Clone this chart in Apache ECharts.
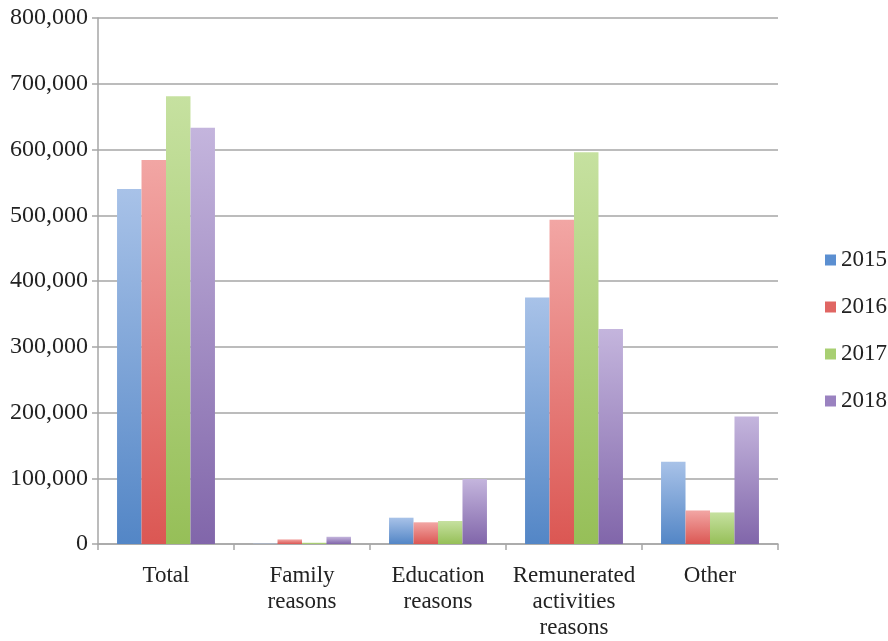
<!DOCTYPE html>
<html>
<head>
<meta charset="utf-8">
<script src="https://cdn.jsdelivr.net/npm/echarts@6/dist/echarts.min.js"></script>
<style>
  html, body { margin: 0; padding: 0; background: #fff; }
  #chart { width: 888px; height: 641px; }
</style>
</head>
<body>
<div id="chart"></div>
<script>
// 数据
const categories = ['Total', 'Family\nreasons', 'Education\nreasons', 'Remunerated\nactivities\nreasons', 'Other']
const years = ['2015', '2016', '2017', '2018']
const v2015 = [540000, 500, 40000, 375000, 125000]
const v2016 = [584000, 7000, 33000, 493000, 51000]
const v2017 = [681000, 2000, 35000, 596000, 48000]
const v2018 = [633000, 11000, 99000, 327000, 194000]
const seriesValues = [v2015, v2016, v2017, v2018]

// 颜色 (上浅下深)
const colors = [
    ['#a8c2e8', '#5386c6'],
    ['#f2a6a4', '#db5753'],
    ['#c6e1a0', '#96bf58'],
    ['#c4b5dd', '#8166aa']
]
const legendColors = ['#5b8fd1', '#e06663', '#a8cf72', '#9a82c0']

const FONT = '"Liberation Serif", "DejaVu Serif", serif'

const chart = echarts.init(document.getElementById('chart'))

const option = {
    animation: false,
    grid: { left: 98, right: 110, top: 18, bottom: 90, containLabel: false },
    legend: {
        orient: 'vertical',
        left: 820,
        top: 243,
        itemWidth: 11,
        itemHeight: 11,
        itemGap: 23,
        icon: 'rect',
        textStyle: { fontFamily: FONT, fontSize: 23, lineHeight: 24, color: '#222' },
        data: years.map((y, i) => ({ name: y, itemStyle: { color: legendColors[i] } }))
    },
    xAxis: {
        type: 'category',
        data: categories,
        axisLine: { lineStyle: { color: '#a6a6a6', width: 1.5 } },
        axisTick: { show: true, length: 6, lineStyle: { color: '#a6a6a6', width: 1.5 } },
        axisLabel: { fontFamily: FONT, fontSize: 23, color: '#222', lineHeight: 26, margin: 19, interval: 0 }
    },
    yAxis: {
        type: 'value',
        min: 0,
        max: 800000,
        interval: 100000,
        axisLine: { show: true, lineStyle: { color: '#a6a6a6', width: 1.5 } },
        axisTick: { show: true, inside: false, length: 6, lineStyle: { color: '#a6a6a6', width: 1.5 } },
        axisLabel: {
            fontFamily: FONT, fontSize: 24, color: '#222', margin: 10,
            formatter: v => v.toLocaleString('en-US')
        },
        splitLine: { show: true, lineStyle: { color: '#a6a6a6', width: 1.5 } }
    },
    series: seriesValues.map((data, i) => ({
        type: 'bar',
        name: years[i],
        data: data,
        barGap: '0%',
        barCategoryGap: '28%',
        itemStyle: {
            color: new echarts.graphic.LinearGradient(0, 0, 0, 1, [
                { offset: 0, color: colors[i][0] },
                { offset: 1, color: colors[i][1] }
            ])
        }
    }))
}

chart.setOption(option)
</script>
</body>
</html>
